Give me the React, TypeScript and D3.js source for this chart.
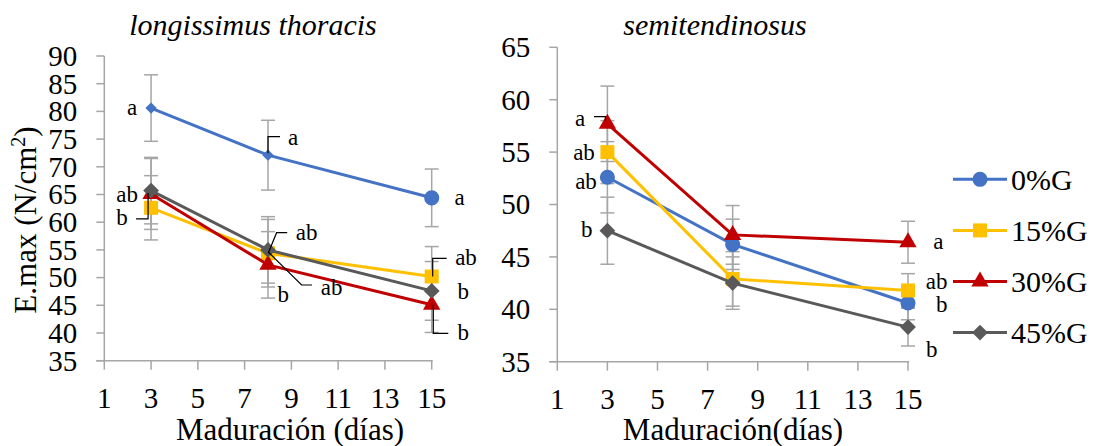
import React from 'react';
import * as d3 from 'd3';

// maduración (días)
const days = [3, 8, 15];
const groups = ['0%G', '15%G', '30%G', '45%G'];

// longissimus thoracis
const ltMeans = [
  [80.6, 72.1, 64.4],
  [62.6, 54.4, 50.2],
  [65.1, 52.3, 45.1],
  [65.7, 55.0, 47.6],
];
const ltErr = [
  [6.0, 6.3, 5.2],
  [5.8, 6.1, 5.4],
  [6.4, 6.0, 5.0],
  [6.0, 6.0, 5.3],
];
const ltLetters = [
  ['a', 'a', 'a'],
  ['', 'ab', 'ab'],
  ['b', 'b', 'b'],
  ['ab', 'ab', 'b'],
];

// semitendinosus
const stMeans = [
  [52.6, 46.2, 40.6],
  [55.0, 42.9, 41.8],
  [57.7, 47.1, 46.4],
  [47.5, 42.5, 38.3],
];
const stErr = [
  [3.4, 2.4, 1.6],
  [3.0, 2.6, 1.6],
  [3.6, 2.8, 2.0],
  [3.2, 2.5, 1.8],
];
const stLetters = [
  ['ab', '', 'b'],
  ['ab', '', 'ab'],
  ['a', '', 'a'],
  ['b', '', 'b'],
];

const xTicks = [1, 3, 5, 7, 9, 11, 13, 15];
const ltYTicks = [35, 40, 45, 50, 55, 60, 65, 70, 75, 80, 85, 90];
const stYTicks = [35, 40, 45, 50, 55, 60, 65];

const colors = ['#4472C4', '#FFC000', '#C00000', '#595959'];
const markers = ['circle', 'square', 'triangle', 'diamond'];
const FONT = '"Liberation Serif", "Times New Roman", serif';
const AXIS = '#A6A6A6';

// letter placement: offset of label from its point, optional leader polyline (also offsets)
type Lab = { s: number; i: number; dx: number; dy: number; lead?: [number, number][] };
const ltLabelPos: Lab[] = [
  { s: 0, i: 0, dx: -19, dy: 7 },
  { s: 0, i: 1, dx: 25, dy: -10, lead: [[0, -2], [0, -18.5], [12, -18.5]] },
  { s: 0, i: 2, dx: 28, dy: 7 },
  { s: 3, i: 0, dx: -24, dy: 11 },
  { s: 2, i: 0, dx: -29, dy: 31, lead: [[-15, 25], [-3, 25], [-3, -1]] },
  { s: 3, i: 1, dx: 38.6, dy: -10, lead: [[0.2, 3.4], [8.6, -17.2], [19.2, -17.2]] },
  { s: 1, i: 1, dx: 63.6, dy: 41.8, lead: [[0, -1.5], [33.6, 31.8], [44, 31.8]] },
  { s: 2, i: 1, dx: 15.2, dy: 36.8 },
  { s: 1, i: 2, dx: 34.3, dy: -11.5, lead: [[1, 0], [1, -18.2], [15, -18.2]] },
  { s: 3, i: 2, dx: 31.6, dy: 8.4 },
  { s: 2, i: 2, dx: 31.6, dy: 35.3, lead: [[1.6, 0], [1.6, 28.6], [16.6, 28.6]] },
];
const stLabelPos: Lab[] = [
  { s: 2, i: 0, dx: -27.4, dy: 2.2, lead: [[-13.4, -7.1], [-2, -7.1], [-2, -3]] },
  { s: 1, i: 0, dx: -23.4, dy: 7.9 },
  { s: 0, i: 0, dx: -21.4, dy: 12 },
  { s: 3, i: 0, dx: -20.7, dy: 6 },
  { s: 2, i: 2, dx: 30.3, dy: 7.1 },
  { s: 1, i: 2, dx: 28.7, dy: -1.1 },
  { s: 0, i: 2, dx: 33.7, dy: 8.7 },
  { s: 3, i: 2, dx: 23.7, dy: 29.6 },
];

function markerPath(kind: string, small = false) {
  if (kind === 'circle') return d3.symbol(d3.symbolCircle, 180)()!;
  if (kind === 'square') return d3.symbol(d3.symbolSquare, 196)()!;
  if (kind === 'triangle') return d3.symbol(d3.symbolTriangle, 130)()!;
  return d3.symbol(d3.symbolSquare, small ? 64 : 125)()!;
}

function Marker({ kind, x, y, color, small }: { kind: string; x: number; y: number; color: string; small?: boolean }) {
  const rot = kind === 'diamond' ? ' rotate(45)' : '';
  return <path d={markerPath(kind, small)} transform={`translate(${x},${y})${rot}`} fill={color} />;
}

type PanelProps = {
  x0: number; x1: number; yTop: number; yBot: number;
  domain: [number, number]; yTicks: number[];
  means: number[][]; errs: number[][]; letters: string[][]; labels: Lab[];
  title: string; titleX: number; xTitle: string; xTitleX: number;
  markerOverride?: (s: number, i: number) => { kind: string; small: boolean } | null;
};

function Panel(p: PanelProps) {
  const x = d3.scaleLinear().domain([1, 15]).range([p.x0, p.x1]);
  const y = d3.scaleLinear().domain(p.domain).range([p.yBot, p.yTop]);
  const line = d3.line<number>().x((_, i) => x(days[i])).y(v => y(v));
  return (
    <g>
      <text x={p.titleX} y={35} textAnchor="middle" fontFamily={FONT} fontStyle="italic" fontSize={30}>{p.title}</text>
      {/* axes */}
      <line x1={p.x0} x2={p.x0} y1={p.yTop} y2={p.yBot} stroke={AXIS} strokeWidth={1.5} />
      <line x1={p.x0 - 8} x2={p.x1 + 1} y1={p.yBot} y2={p.yBot} stroke={AXIS} strokeWidth={1.5} />
      {p.yTicks.map(t => (
        <g key={'y' + t}>
          <line x1={p.x0 - 8} x2={p.x0} y1={y(t)} y2={y(t)} stroke={AXIS} strokeWidth={1.5} />
          <text x={p.x0 - 27} y={y(t)} dy="0.34em" textAnchor="end" fontFamily={FONT} fontSize={29}>{t}</text>
        </g>
      ))}
      {xTicks.map(t => (
        <g key={'x' + t}>
          <line x1={x(t)} x2={x(t)} y1={p.yBot} y2={p.yBot + 9} stroke={AXIS} strokeWidth={1.5} />
          <text x={x(t)} y={p.yBot + 47} textAnchor="middle" fontFamily={FONT} fontSize={29}>{t}</text>
        </g>
      ))}
      <text x={p.xTitleX} y={440} textAnchor="middle" fontFamily={FONT} fontSize={31}>{p.xTitle}</text>
      {/* error bars */}
      {p.means.map((row, s) => row.map((v, i) => {
        const e = p.errs[s][i];
        const cx = x(days[i]);
        return (
          <g key={`e${s}-${i}`} stroke={AXIS} strokeWidth={1.5}>
            <line x1={cx} x2={cx} y1={y(v + e)} y2={y(v - e)} />
            <line x1={cx - 7} x2={cx + 7} y1={y(v + e)} y2={y(v + e)} />
            <line x1={cx - 7} x2={cx + 7} y1={y(v - e)} y2={y(v - e)} />
          </g>
        );
      }))}
      {/* series */}
      {p.means.map((row, s) => (
        <g key={'s' + s}>
          <path d={line(row)!} fill="none" stroke={colors[s]} strokeWidth={3} />
          {row.map((v, i) => {
            const o = p.markerOverride ? p.markerOverride(s, i) : null;
            return <Marker key={i} kind={o ? o.kind : markers[s]} small={o ? o.small : false} x={x(days[i])} y={y(v)} color={colors[s]} />;
          })}
        </g>
      ))}
      {/* significance letters */}
      {p.labels.map((l, k) => {
        const px = x(days[l.i]);
        const py = y(p.means[l.s][l.i]);
        return (
          <g key={'l' + k}>
            {l.lead && (
              <polyline points={l.lead.map(([a, b]) => `${px + a},${py + b}`).join(' ')} fill="none" stroke="#000" strokeWidth={1.2} />
            )}
            <text x={px + l.dx} y={py + l.dy} textAnchor="middle" fontFamily={FONT} fontSize={23}>{p.letters[l.s][l.i]}</text>
          </g>
        );
      })}
    </g>
  );
}

export default function App() {
  return (
    <div style={{ position: 'absolute', left: 0, top: 0 }}>
      <svg width={1095} height={446} style={{ display: 'block', background: '#fff' }}>
        <Panel
          x0={104.3} x1={431.7} yTop={56} yBot={360.7} domain={[35, 90]} yTicks={ltYTicks}
          means={ltMeans} errs={ltErr} letters={ltLetters} labels={ltLabelPos}
          title="longissimus thoracis" titleX={253} xTitle="Maduración (días)" xTitleX={290}
          markerOverride={(s, i) => (s === 0 && i < 2 ? { kind: 'diamond', small: true } : null)}
        />
        <Panel
          x0={557.3} x1={908} yTop={47.3} yBot={361.7} domain={[35, 65]} yTicks={stYTicks}
          means={stMeans} errs={stErr} letters={stLetters} labels={stLabelPos}
          title="semitendinosus" titleX={715} xTitle="Maduración(días)" xTitleX={733}
        />
        <text transform="translate(36,220) rotate(-90)" textAnchor="middle" fontFamily={FONT} fontSize={31}>
          E.max (N/cm<tspan dy={-11} fontSize={20}>2</tspan><tspan dy={11}>)</tspan>
        </text>
        {groups.map((g, s) => {
          const cy = 179.3 + s * 51.1;
          return (
            <g key={g}>
              <line x1={953} x2={1007} y1={cy} y2={cy} stroke={colors[s]} strokeWidth={3} />
              <Marker kind={markers[s]} x={980} y={cy} color={colors[s]} />
              <text x={1011} y={cy} dy="0.34em" fontFamily={FONT} fontSize={30}>{g}</text>
            </g>
          );
        })}
      </svg>
    </div>
  );
}
